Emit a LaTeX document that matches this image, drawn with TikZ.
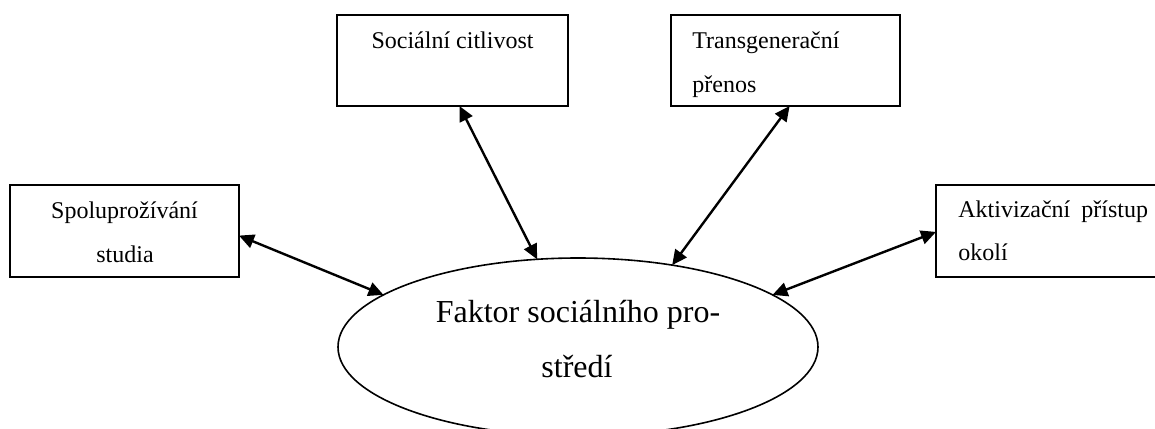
\documentclass[tikz,border=0pt]{standalone}
\usepackage{fontspec}
\setmainfont{Liberation Serif}
\usetikzlibrary{shapes.geometric,arrows.meta,calc}

\begin{document}
\begin{tikzpicture}[
  x=0.5pt, y=-0.5pt,
  factorbox/.style={draw, line width=1pt, rectangle, inner sep=0pt, outer sep=0pt,
    minimum width=114.5pt, minimum height=46pt},
  hub/.style={draw, line width=0.8pt, ellipse, inner sep=0pt, outer sep=0pt,
    minimum width=240pt, minimum height=89pt},
  boxtext/.style={font=\fontsize{12}{14}\selectfont, inner sep=0pt},
  hubtext/.style={font=\fontsize{16}{19}\selectfont, inner sep=0pt},
  link/.style={line width=1.2pt, {Triangle[length=7.5pt,width=7pt]}-{Triangle[length=7.5pt,width=7pt]}}
]
\useasboundingbox (0,0) rectangle (1155,428);

% central ellipse
\node[hub] (el) at (578,347) {};
\node[hubtext, anchor=base] (el1) at (578,322) {Faktor sociálního pro-};
\node[hubtext, anchor=base] (el2) at (577,377) {středí};

% surrounding factor boxes
\node[factorbox] (sp) at (124.5,231) {};
\node[boxtext, anchor=base] (sp1) at (124.5,218) {Spoluprožívání};
\node[boxtext, anchor=base] (sp2) at (125,262) {studia};

\node[factorbox, minimum width=115.5pt, minimum height=45.5pt] (sc) at (452.5,60.5) {};
\node[boxtext, anchor=base] (sc1) at (452.5,48) {Sociální citlivost};

\node[factorbox, minimum height=45.5pt] (tg) at (785,60.5) {};
\node[boxtext, anchor=base west] (tg1) at (692,48) {Transgenerační};
\node[boxtext, anchor=base west] (tg2) at (692,92) {přenos};

\node[factorbox] (ak) at (1050.5,231) {};
\node[boxtext, anchor=base west] (ak1) at (958,217) {Aktivizační\hspace{5.5pt}přístup};
\node[boxtext, anchor=base west] (ak2) at (958,260) {okolí};

% two-way links between the boxes and the ellipse
\draw[link] ($(sp.north east)!0.55!(sp.south east)$) -- (el.165.1);
\draw[link] ($(sc.south west)!0.53!(sc.south east)$) -- (el.115.2);
\draw[link] ($(tg.south west)!0.52!(tg.south east)$) -- (el.41.1);
\draw[link] ($(ak.north west)!0.51!(ak.south west)$) -- (el.15.2);
\end{tikzpicture}
\end{document}
